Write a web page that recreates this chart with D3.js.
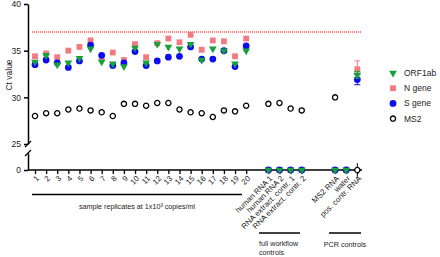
<!DOCTYPE html>
<html>
<head>
<meta charset="utf-8">
<script src="https://cdn.jsdelivr.net/npm/d3@7"></script>
<style>
body { margin: 0; background: #fff; }
text { font-family: "Liberation Sans", Arial, Helvetica, sans-serif; }
</style>
</head>
<body>
<div id="chart"></div>
<script>
// categories, "" marks an empty slot on the x axis
const categories = ["1", "2", "3", "4", "5", "6", "7", "8", "9", "10",
    "11", "12", "13", "14", "15", "16", "17", "18", "19", "20", "",
    "human RNA 1", "human RNA 2", "RNA extract. contr. 1", "RNA extract. contr. 2", "", "",
    "MS2 RNA", "water", "pos. contr. RNA"]

const orf1ab = [33.8, 34.5, 33.5, 33.7, 34.2, 35.2, 33.8, 33.6, 33.3, 35.3,
    33.7, 35.7, 35.4, 35.2, 35.7, 34.0, 35.2, 35.0, 33.6, 35.0, null,
    0, 0, 0, 0, null, null, 0, 0, 32.4]
const nGene = [34.4, 34.7, 34.3, 35.0, 35.4, 36.1, 34.3, 34.8, 34.0, 35.7,
    34.3, 35.8, 36.3, 35.9, 36.7, 35.1, 36.1, 36.0, 34.4, 36.3, null,
    0, 0, 0, 0, null, null, 0, 0, 33.0]
const sGene = [33.5, 34.0, 33.7, 33.2, 33.9, 35.6, 34.5, 33.4, 33.7, 34.9,
    33.4, 33.9, 34.3, 34.4, 35.4, 34.1, 34.1, 35.0, 33.3, 35.5, null,
    0, 0, 0, 0, null, null, 0, 0, 31.9]
const ms2 = [28.0, 28.3, 28.3, 28.7, 28.8, 28.6, 28.4, 28.0, 29.3, 29.3,
    29.1, 29.4, 29.4, 28.7, 28.4, 28.3, 27.9, 28.6, 28.5, 29.1, null,
    29.3, 29.4, 28.8, 28.6, null, null, 30.0, 0, 0]

// standard deviations (only the positive PCR control has replicates)
const orf1abSd = [0, 0, 0, 0, 0, 0, 0, 0, 0, 0, 0, 0, 0, 0, 0, 0, 0, 0, 0, 0, 0, 0, 0, 0, 0, 0, 0, 0, 0, 0.35]
const nGeneSd = [0, 0, 0, 0, 0, 0, 0, 0, 0, 0, 0, 0, 0, 0, 0, 0, 0, 0, 0, 0, 0, 0, 0, 0, 0, 0, 0, 0, 0, 0.9]
const sGeneSd = [0, 0, 0, 0, 0, 0, 0, 0, 0, 0, 0, 0, 0, 0, 0, 0, 0, 0, 0, 0, 0, 0, 0, 0, 0, 0, 0, 0, 0, 0.55]
const ms2Sd = [0, 0, 0, 0, 0, 0, 0, 0, 0, 0, 0, 0, 0, 0, 0, 0, 0, 0, 0, 0, 0, 0, 0, 0, 0, 0, 0, 0, 0, 0.8]

const upperTicks = [25, 30, 35, 40]
const lowerTicks = [0]
const cutoff = 37

const groups = [
    { label: ["sample replicates at 1x10³ copies/ml"], from: 32, to: 242, y: 194.5, anchor: "middle" },
    { label: ["full workflow", "controls"], from: 259, to: 300, y: 233, anchor: "start" },
    { label: ["PCR controls"], from: 329, to: 361, y: 233, anchor: "middle" }
]

const width = 440, height = 257
const axisX = 28, axisY = 170

const svg = d3.select("#chart").append("svg")
    .attr("width", width)
    .attr("height", height)

const x = d3.scalePoint()
    .domain(d3.range(categories.length))
    .range([35, 357.3])

const yTop = d3.scaleLinear().domain([25, 40]).range([144, 4])
const yBot = d3.scaleLinear().domain([0, 2]).range([axisY, 153])
const y = v => v >= 25 ? yTop(v) : yBot(v)

// y axis, two segments with a break
svg.append("g")
    .attr("transform", `translate(${axisX},0)`)
    .call(d3.axisLeft(yTop).tickValues(upperTicks).tickFormat(d3.format("d")).tickSize(4).tickSizeOuter(0))
    .call(g => g.selectAll("text").attr("font-size", 8.5).attr("fill", "#222"))
svg.append("g")
    .attr("transform", `translate(${axisX},0)`)
    .call(d3.axisLeft(yBot).tickValues(lowerTicks).tickFormat(d3.format("d")).tickSize(4).tickSizeOuter(0))
    .call(g => g.selectAll("text").attr("font-size", 8.5).attr("fill", "#222"))
svg.selectAll(".domain, .tick line").attr("stroke", "#000").attr("stroke-width", 1.5)

// break marks
svg.selectAll("line.brk")
    .data([yTop(25), yBot(2)])
    .enter()
    .append("line")
    .attr("class", "brk")
    .attr("x1", axisX - 3).attr("x2", axisX + 3)
    .attr("y1", d => d + 3).attr("y2", d => d - 3)
    .attr("stroke", "#000")
    .attr("stroke-width", 1.3)

svg.append("text")
    .text("Ct value")
    .attr("transform", `translate(12,75) rotate(-90)`)
    .attr("text-anchor", "middle")
    .attr("font-size", 8.5)
    .attr("fill", "#222")

// x axis
const labelled = d3.range(categories.length).filter(i => categories[i] !== "")
const xAxis = svg.append("g")
    .attr("transform", `translate(0,${axisY})`)
    .call(d3.axisBottom(x).tickValues(labelled).tickFormat(i => categories[i]).tickSize(4).tickSizeOuter(0))
xAxis.select(".domain").remove()
xAxis.selectAll("line").attr("stroke", "#000").attr("stroke-width", 1.3)
xAxis.selectAll("text")
    .attr("font-size", 7.8)
    .attr("fill", "#222")
    .attr("x", -3.5)
    .attr("y", 6.5)
    .attr("dy", "0.35em")
    .attr("transform", "rotate(-45)")
    .style("text-anchor", "end")
svg.append("line")
    .attr("x1", axisX).attr("x2", 362)
    .attr("y1", axisY).attr("y2", axisY)
    .attr("stroke", "#000")
    .attr("stroke-width", 1.5)

// detection cut-off
svg.append("line")
    .attr("x1", 32).attr("x2", 362)
    .attr("y1", y(cutoff)).attr("y2", y(cutoff))
    .attr("stroke", "#f00")
    .attr("stroke-width", 1.2)
    .attr("stroke-dasharray", "1,1")

const series = [
    { name: "MS2", values: ms2, sd: ms2Sd, color: "#000", shape: "ring" },
    { name: "N gene", values: nGene, sd: nGeneSd, color: "#f47a82", shape: d3.symbolSquare, size: 34 },
    { name: "S gene", values: sGene, sd: sGeneSd, color: "#0c0cf2", shape: d3.symbolCircle, size: 36 },
    { name: "ORF1ab", values: orf1ab, sd: orf1abSd, color: "#17a13a", shape: d3.symbolTriangle, size: 26 }
]

function drawSymbol(sel, s) {
    if (s.shape === "ring") {
        sel.append("circle")
            .attr("r", 2.6)
            .attr("fill", "#fff")
            .attr("stroke", s.color)
            .attr("stroke-width", 1.3)
    } else {
        sel.append("path")
            .attr("d", d3.symbol().type(s.shape).size(s.size))
            .attr("transform", s.shape === d3.symbolTriangle ? "rotate(180)" : null)
            .attr("fill", s.color)
    }
}

series.forEach(function (s) {
    const pts = s.values.map((v, i) => ({ i: i, v: v, sd: s.sd[i] })).filter(d => d.v !== null)
    const g = svg.append("g")

    // error bars
    const eb = g.selectAll("g.err")
        .data(pts.filter(d => d.sd > 0))
        .enter()
        .append("g")
        .attr("stroke", s.color)
        .attr("stroke-width", 1)
    eb.append("line")
        .attr("x1", d => x(d.i)).attr("x2", d => x(d.i))
        .attr("y1", d => y(d.v + d.sd))
        .attr("y2", d => 2 * y(d.v) - y(d.v + d.sd))
    if (s.shape !== "ring") {
        eb.append("line")
            .attr("x1", d => x(d.i) - 3).attr("x2", d => x(d.i) + 3)
            .attr("y1", d => y(d.v + d.sd)).attr("y2", d => y(d.v + d.sd))
        eb.append("line")
            .attr("x1", d => x(d.i) - 3).attr("x2", d => x(d.i) + 3)
            .attr("y1", d => 2 * y(d.v) - y(d.v + d.sd)).attr("y2", d => 2 * y(d.v) - y(d.v + d.sd))
    }

    const m = g.selectAll("g.pt")
        .data(pts)
        .enter()
        .append("g")
        .attr("transform", d => `translate(${x(d.i)},${y(d.v)})`)
    drawSymbol(m, s)
})

// legend
const legendKeys = ["ORF1ab", "N gene", "S gene", "MS2"]
const legend = svg.selectAll("g.legend")
    .data(legendKeys)
    .enter()
    .append("g")
    .attr("transform", (d, i) => `translate(393,${73 + i * 15.2})`)
legend.each(function (d) {
    drawSymbol(d3.select(this), series.find(s => s.name === d))
})
legend.append("text")
    .text(d => d)
    .attr("x", 11)
    .attr("dy", "0.35em")
    .attr("font-size", 8.5)
    .attr("fill", "#222")

// group brackets
groups.forEach(function (gr) {
    svg.append("line")
        .attr("x1", gr.from).attr("x2", gr.to)
        .attr("y1", gr.y).attr("y2", gr.y)
        .attr("stroke", "#000")
        .attr("stroke-width", 1.5)
    const tx = gr.anchor === "middle" ? (gr.from + gr.to) / 2 : gr.from
    svg.append("text")
        .attr("x", tx)
        .attr("y", gr.label.length > 1 ? gr.y + 13 : gr.y + 14)
        .attr("text-anchor", gr.anchor)
        .attr("font-size", 7.2)
        .attr("fill", "#222")
        .selectAll("tspan")
        .data(gr.label)
        .enter()
        .append("tspan")
        .attr("x", tx)
        .attr("dy", (d, i) => i === 0 ? 0 : 8.5)
        .text(d => d)
})
</script>
</body>
</html>
